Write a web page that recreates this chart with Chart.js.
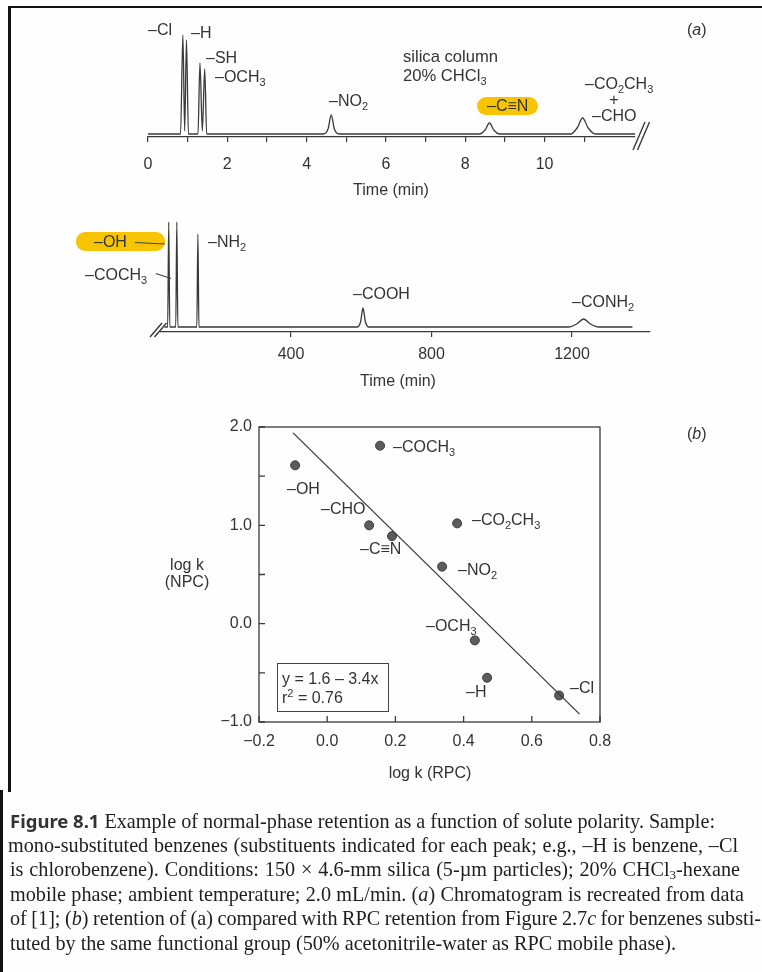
<!DOCTYPE html>
<html><head><meta charset="utf-8">
<script src="https://cdn.jsdelivr.net/npm/chart.js@4.4.1/dist/chart.umd.min.js"></script>
<style>
html,body{margin:0;padding:0;background:#fff;}
#page{position:relative;width:762px;height:972px;overflow:hidden;background:#fefefe;}
canvas{position:absolute;left:0;}
.lbl{position:absolute;font-family:'Liberation Sans','DejaVu Sans',sans-serif;font-size:16px;color:#333;white-space:nowrap;line-height:16px;transform:translateY(-50%);}
.ctr{transform:translate(-50%,-50%);}
.lbl sub{font-size:11px;vertical-align:-4px;line-height:0;}
.lbl sup{font-size:11px;vertical-align:6px;line-height:0;}
.pill{position:absolute;background:#f6c400;border-radius:9px;}
.lead{position:absolute;height:0;border-top:1.3px solid #444;transform-origin:0 0;}
.cap{position:absolute;font-family:'Liberation Serif','DejaVu Serif',serif;font-size:20.2px;color:#1e1e1e;white-space:nowrap;line-height:24px;height:24px;}
.cap b{font-family:'Noto Sans','Liberation Sans',sans-serif;font-weight:700;font-size:18.5px;color:#333;}
.cap sub{font-size:13px;vertical-align:-3px;line-height:0;}
.fr{position:absolute;background:#111;}
</style></head>
<body><div id="page">
<div class="fr" style="left:8px;top:6px;width:754px;height:2px;"></div>
<div class="fr" style="left:8px;top:6px;width:3px;height:786px;"></div>
<div class="fr" style="left:0px;top:790px;width:3px;height:182px;"></div>

<canvas id="c1" width="762" height="210" style="top:0px"></canvas>
<canvas id="c2" width="762" height="200" style="top:200px"></canvas>
<canvas id="c3" width="762" height="400" style="top:400px"></canvas>

<!-- (a) top chromatogram labels -->
<div class="lbl" style="left:687px;top:30px;">(<i>a</i>)</div>
<div class="lbl" style="left:148px;top:30px;">–Cl</div>
<div class="lbl" style="left:191px;top:33px;">–H</div>
<div class="lbl" style="left:206px;top:58px;">–SH</div>
<div class="lbl" style="left:215px;top:77px;">–OCH<sub>3</sub></div>
<div class="lbl" style="left:329px;top:101px;">–NO<sub>2</sub></div>
<div class="lbl" style="left:403px;top:57px;font-size:16.6px;">silica column</div>
<div class="lbl" style="left:403px;top:76px;font-size:16.6px;">20% CHCl<sub>3</sub></div>
<div class="pill" style="left:477px;top:97px;width:61px;height:18px;"></div>
<div class="lbl" style="left:487px;top:106px;">–C≡N</div>
<div class="lbl" style="left:585px;top:84px;">–CO<sub>2</sub>CH<sub>3</sub></div>
<div class="lbl ctr" style="left:614px;top:100px;">+</div>
<div class="lbl" style="left:592px;top:116px;">–CHO</div>
<div class="lbl ctr" style="left:391px;top:190px;">Time (min)</div>

<!-- bottom chromatogram labels -->
<div class="pill" style="left:76px;top:232px;width:89px;height:19px;"></div>
<div class="lbl" style="left:94px;top:242px;">–OH</div>
<div class="lead" style="left:135px;top:242px;width:30px;transform:rotate(3deg);"></div>
<div class="lbl" style="left:85px;top:275px;">–COCH<sub>3</sub></div>
<div class="lead" style="left:156px;top:273px;width:16px;transform:rotate(18deg);"></div>
<div class="lbl" style="left:208px;top:242px;">–NH<sub>2</sub></div>
<div class="lbl" style="left:353px;top:294px;">–COOH</div>
<div class="lbl" style="left:572px;top:302px;">–CONH<sub>2</sub></div>
<div class="lbl ctr" style="left:398px;top:381px;">Time (min)</div>

<!-- (b) scatter labels -->
<div class="lbl" style="left:687px;top:434px;">(<i>b</i>)</div>
<div class="lbl" style="left:287px;top:489px;">–OH</div>
<div class="lbl" style="left:393px;top:447px;">–COCH<sub>3</sub></div>
<div class="lbl" style="left:321px;top:509px;">–CHO</div>
<div class="lbl" style="left:360px;top:549px;">–C≡N</div>
<div class="lbl" style="left:472px;top:520px;">–CO<sub>2</sub>CH<sub>3</sub></div>
<div class="lbl" style="left:458px;top:570px;">–NO<sub>2</sub></div>
<div class="lbl" style="left:426px;top:626px;">–OCH<sub>3</sub></div>
<div class="lbl" style="left:466px;top:692px;">–H</div>
<div class="lbl" style="left:570px;top:688px;">–Cl</div>
<div style="position:absolute;left:277px;top:663px;width:110px;height:47px;border:1.3px solid #444;"></div>
<div class="lbl" style="left:282px;top:679px;">y = 1.6 – 3.4x</div>
<div class="lbl" style="left:282px;top:698px;">r<sup>2</sup> = 0.76</div>
<div class="lbl ctr" style="left:187px;top:565px;">log k</div>
<div class="lbl ctr" style="left:187px;top:582px;">(NPC)</div>
<div class="lbl ctr" style="left:430px;top:773px;">log k (RPC)</div>

<!-- caption -->
<div class="cap fit" data-w="705" style="left:10px;top:809px;"><span><b>Figure 8.1</b> Example of normal-phase retention as a function of solute polarity. Sample:</span></div>
<div class="cap fit" data-w="730" style="left:8px;top:833px;"><span>mono-substituted benzenes (substituents indicated for each peak; e.g., –H is benzene, –Cl</span></div>
<div class="cap fit" data-w="730" style="left:10px;top:857px;"><span>is chlorobenzene). Conditions: 150 × 4.6-mm silica (5-µm particles); 20% CHCl<sub>3</sub>-hexane</span></div>
<div class="cap fit" data-w="734" style="left:10px;top:882px;"><span>mobile phase; ambient temperature; 2.0 mL/min. (<i>a</i>) Chromatogram is recreated from data</span></div>
<div class="cap fit" data-w="751" style="left:10px;top:906px;"><span>of [1]; (<i>b</i>) retention of (a) compared with RPC retention from Figure 2.7<i>c</i> for benzenes substi-</span></div>
<div class="cap" style="left:10px;top:931px;"><span>tuted by the same functional group (50% acetonitrile-water as RPC mobile phase).</span></div>
</div>
<script>
// ---------- data ----------
// (a) top chromatogram: silica column, 20% CHCl3 (time in min, detector signal in arbitrary units)
const trace1Time   = [0, 0.82, 0.88, 0.925, 0.97, 1.02, 1.26, 1.31, 1.37, 1.43, 1.48, 4.42, 4.54, 4.62, 4.70, 4.82, 8.36, 8.50, 8.61, 8.72, 8.86, 10.66, 10.82, 10.96, 11.10, 11.28, 12.28];
const trace1Signal = [0, 0,    99,   3,     94,   0,    0,    71,   3,    65,   0,    0,    5,    19,   5,    0,    0,    4,    11,   4,    0,    0,     6,     16,    6,     0,     0];
const trace1Ticks  = [0, 2, 4, 6, 8, 10, 12];
// (a) bottom chromatogram (continuation)
const trace2Time   = [40, 49, 52, 55, 72, 75, 78, 132, 135, 138, 588, 598, 605, 612, 622, 1190, 1213, 1233, 1253, 1276, 1372];
const trace2Signal = [0,  0,  105, 0, 0,  105, 0,  0,   93,  0,   0,   5,   19,  5,   0,   0,    3,    8,    3,    0,    0];
const trace2Ticks  = [400, 800, 1200];
// (b) log k (NPC) vs log k (RPC)
const substituents = ['–OH', '–COCH3', '–CHO', '–C≡N', '–CO2CH3', '–NO2', '–OCH3', '–H', '–Cl'];
const logkRPC      = [-0.094, 0.155, 0.123, 0.19, 0.381, 0.337, 0.433, 0.469, 0.68];
const logkNPC      = [1.61,   1.81,  1.00,  0.89, 1.02,  0.58,  -0.17, -0.55, -0.73];
const fitRPC       = [-0.10, 0.74];
const fitNPC       = [1.94, -0.92];

// ---------- caption justification ----------
document.querySelectorAll('.cap.fit').forEach(el => {
  const span = el.firstElementChild;
  const target = parseFloat(el.dataset.w);
  const natural = span.getBoundingClientRect().width;
  const spaces = (span.textContent.match(/ /g) || []).length;
  if (spaces) el.style.wordSpacing = ((target - natural) / spaces).toFixed(2) + 'px';
});

// ---------- helpers ----------
const INK = '#3a3a3a';
const FONT = {family: "'Liberation Sans','DejaVu Sans',sans-serif", size: 16};
const pts = (xs, ys) => xs.map((x, i) => ({x, y: ys[i]}));
const fmt = v => Math.abs(v) < 1e-9 ? '0.0' : (v < 0 ? '\u2212' : '') + Math.abs(v).toFixed(1);

const breakMark = (side) => ({
  id: 'break' + side,
  afterDraw(chart) {
    const {ctx, chartArea: a} = chart;
    ctx.save();
    ctx.strokeStyle = INK; ctx.lineWidth = 1.4;
    const bx = side === 'right' ? a.right - 2 : a.left - 11;
    const by = side === 'right' ? a.bottom + 13 : a.bottom + 5;
    const dx = 12, dy = side === 'right' ? -28 : -14;
    for (const off of [0, 4.5]) {
      ctx.beginPath(); ctx.moveTo(bx + off, by); ctx.lineTo(bx + off + dx, by + dy); ctx.stroke();
    }
    ctx.restore();
  }
});

function chromOptions(pad, xmin, xmax, step, tickList, ymin, ymax, tickPad) {
  return {
    responsive: false, animation: false, events: [],
    layout: {padding: pad},
    plugins: {legend: {display: false}, tooltip: {enabled: false}},
    scales: {
      x: {
        type: 'linear', min: xmin, max: xmax,
        afterBuildTicks: s => { s.ticks = s.ticks.filter(t => Math.abs(t.value / step - Math.round(t.value / step)) < 1e-6); },
        afterFit: s => { s.height = 40; },
        ticks: {stepSize: step, autoSkip: false, maxRotation: 0, color: '#333', font: FONT, padding: tickPad,
                callback: v => tickList.includes(v) ? String(v) : ''},
        grid: {drawOnChartArea: false, drawTicks: true, tickLength: 5, color: INK, lineWidth: 1.2},
        border: {color: INK, width: 1.3}
      },
      y: {display: false, min: ymin, max: ymax}
    }
  };
}

// ---------- top chromatogram ----------
new Chart(document.getElementById('c1'), {
  type: 'line',
  data: {datasets: [{data: pts(trace1Time, trace1Signal), borderColor: INK, borderWidth: 1.3,
    pointRadius: 0, cubicInterpolationMode: 'monotone', fill: false}]},
  options: chromOptions({left: 148, right: 127, top: 24, bottom: 33}, 0, 12.28, 1, trace1Ticks, -3, 110, 13),
  plugins: [breakMark('right')]
});

// ---------- bottom chromatogram ----------
new Chart(document.getElementById('c2'), {
  type: 'line',
  data: {datasets: [{data: pts(trace2Time, trace2Signal), borderColor: INK, borderWidth: 1.3,
    pointRadius: 0, cubicInterpolationMode: 'monotone', fill: false}]},
  options: chromOptions({left: 161, right: 112, top: 17, bottom: 28}, 30, 1422, 400, trace2Ticks, -5, 110, 8),
  plugins: [breakMark('left')]
});

// ---------- scatter (b) ----------
const boxTicks = {
  id: 'boxTicks',
  afterDraw(chart) {
    const {ctx, chartArea: a, scales: {x, y}} = chart;
    ctx.save();
    ctx.strokeStyle = INK; ctx.lineWidth = 1.3;
    ctx.strokeRect(a.left, a.top, a.right - a.left, a.bottom - a.top);
    ctx.beginPath();
    x.ticks.forEach(t => { const px = x.getPixelForValue(t.value); ctx.moveTo(px, a.bottom); ctx.lineTo(px, a.bottom - 6); });
    y.ticks.forEach(t => { const py = y.getPixelForValue(t.value); ctx.moveTo(a.left, py); ctx.lineTo(a.left + 6, py); });
    ctx.stroke();
    ctx.restore();
  }
};
new Chart(document.getElementById('c3'), {
  type: 'scatter',
  data: {datasets: [
    {type: 'line', data: pts(fitRPC, fitNPC), borderColor: INK, borderWidth: 1.3, pointRadius: 0, fill: false},
    {data: pts(logkRPC, logkNPC), pointRadius: 4.5, backgroundColor: '#5c5c5c', borderColor: '#3a3a3a', borderWidth: 1}
  ]},
  options: {
    responsive: false, animation: false, events: [],
    layout: {padding: {left: 214, right: 162, top: 27, bottom: 28}},
    plugins: {legend: {display: false}, tooltip: {enabled: false}},
    scales: {
      x: {type: 'linear', min: -0.2, max: 0.8,
        afterFit: s => { s.height = 50; },
        ticks: {stepSize: 0.2, color: '#333', font: FONT, padding: 10, maxRotation: 0, autoSkip: false, callback: v => fmt(v)},
        grid: {display: false, drawTicks: false}, border: {display: false}},
      y: {type: 'linear', min: -1, max: 2,
        afterFit: s => { s.width = 45; },
        ticks: {stepSize: 0.5, color: '#333', font: FONT, padding: 7, autoSkip: false,
          callback: v => Math.abs(v - Math.round(v)) < 1e-9 ? fmt(Math.round(v)) : ''},
        grid: {display: false, drawTicks: false}, border: {display: false}}
    }
  },
  plugins: [boxTicks]
});
</script>
</body></html>
